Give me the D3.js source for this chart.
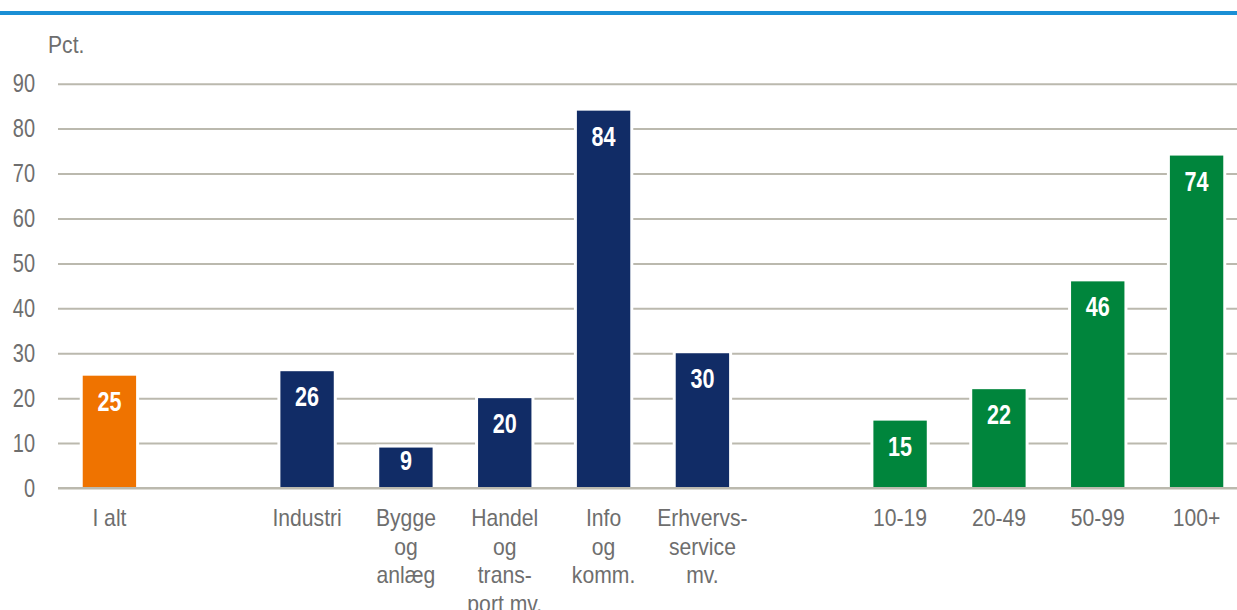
<!DOCTYPE html>
<html>
<head>
<meta charset="utf-8">
<script src="https://cdn.jsdelivr.net/npm/d3@7"></script>
<style>
  html, body { margin: 0; padding: 0; background: #fff; }
  svg { display: block; font-family: "Liberation Sans", Arial, sans-serif; }
</style>
</head>
<body>
<div id="chart"></div>
<script>
// data
const categories = ["I alt", "Industri", "Bygge og anlæg", "Handel og transport mv.", "Info og komm.", "Erhvervsservice mv.", "10-19", "20-49", "50-99", "100+"];
const values = [25, 26, 9, 20, 84, 30, 15, 22, 46, 74];
const groups = ["total", "branche", "branche", "branche", "branche", "branche", "size", "size", "size", "size"];
const labelLines = [
  ["I alt"], ["Industri"], ["Bygge", "og", "anlæg"], ["Handel", "og", "trans-", "port mv."],
  ["Info", "og", "komm."], ["Erhvervs-", "service", "mv."],
  ["10-19"], ["20-49"], ["50-99"], ["100+"]
];
// slot order incl. empty spacer slots between groups
const slots = ["I alt", "_gap1", "Industri", "Bygge og anlæg", "Handel og transport mv.", "Info og komm.", "Erhvervsservice mv.", "_gap2", "10-19", "20-49", "50-99", "100+"];
const yTicks = [0, 10, 20, 30, 40, 50, 60, 70, 80, 90];
const groupColors = { total: "#ef7300", branche: "#112c66", size: "#00853c" };

const width = 1237, height = 610;
const axisX = 58;

const svg = d3.select("#chart").append("svg")
  .attr("width", width)
  .attr("height", height);

// top rule
svg.append("rect")
  .attr("x", 0).attr("y", 11)
  .attr("width", width).attr("height", 4)
  .attr("fill", "#1a8fd5");

const x = d3.scaleBand()
  .domain(slots)
  .range([60, 1246])
  .paddingInner(0.46)
  .paddingOuter(0.23);

const y = d3.scaleLinear()
  .domain([0, 90])
  .range([488, 83.7]);

// y axis + gridlines
const sxTick = 0.8;
const yAxis = svg.append("g")
  .attr("transform", `translate(${axisX},0)`)
  .call(d3.axisLeft(y)
    .tickValues(yTicks)
    .tickSizeInner(-(width - axisX))
    .tickSizeOuter(0)
    .tickPadding(23));

yAxis.select(".domain").remove();
yAxis.selectAll(".tick line")
  .attr("stroke", "#bbb9ae")
  .attr("stroke-width", 2);
yAxis.selectAll(".tick text")
  .attr("font-size", "25px")
  .attr("fill", "#6e6e6e")
  .attr("x", -23 / sxTick)
  .attr("transform", `scale(${sxTick},1)`);

// "Pct." unit label
svg.append("text")
  .attr("transform", "translate(48,53) scale(0.88,1)")
  .attr("font-size", "24px")
  .attr("fill", "#6e6e6e")
  .text("Pct.");

const data = categories.map((c, i) => ({ cat: c, value: values[i], group: groups[i], lines: labelLines[i] }));

// white gap behind bars (cuts gridlines)
svg.append("g").selectAll("rect")
  .data(data)
  .join("rect")
  .attr("x", d => x(d.cat) - 3)
  .attr("y", d => y(d.value) - 3)
  .attr("width", x.bandwidth() + 6)
  .attr("height", d => y(0) - y(d.value) + 3)
  .attr("fill", "#fff");

svg.append("g").selectAll("rect")
  .data(data)
  .join("rect")
  .attr("x", d => x(d.cat))
  .attr("y", d => y(d.value))
  .attr("width", x.bandwidth())
  .attr("height", d => y(0) - y(d.value))
  .attr("fill", d => groupColors[d.group]);

// baseline over bars
svg.append("line")
  .attr("x1", axisX).attr("x2", width)
  .attr("y1", y(0)).attr("y2", y(0))
  .attr("stroke", "#bbb9ae")
  .attr("stroke-width", 2);

// value labels (inside top of bar, pulled up on short bars)
svg.append("g").selectAll("text")
  .data(data)
  .join("text")
  .attr("transform", d => {
    const h = y(0) - y(d.value);
    const off = Math.min(35, h * 0.55);
    return `translate(${x(d.cat) + x.bandwidth() / 2},${y(d.value) + off}) scale(0.8,1)`;
  })
  .attr("text-anchor", "middle")
  .attr("font-size", "27px")
  .attr("font-weight", "bold")
  .attr("fill", "#fff")
  .text(d => d.value);

// category labels
const lab = svg.append("g").selectAll("g")
  .data(data)
  .join("g")
  .attr("transform", d => `translate(${x(d.cat) + x.bandwidth() / 2},526)`);

lab.selectAll("text")
  .data(d => d.lines)
  .join("text")
  .attr("transform", (l, i) => `translate(0,${i * 28.7}) scale(0.92,1)`)
  .attr("text-anchor", "middle")
  .attr("font-size", "23px")
  .attr("fill", "#6e6e6e")
  .text(l => l);
</script>
</body>
</html>
